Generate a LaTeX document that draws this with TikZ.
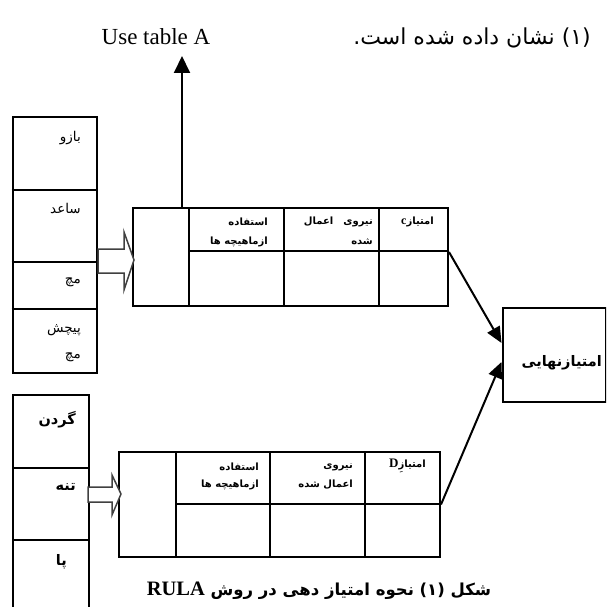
\documentclass[tikz,border=0pt]{standalone}
\usepackage{fontspec}
\setmainfont{Liberation Serif}
\newfontfamily\fa[Script=Arabic]{DejaVu Sans}
\TeXXeTstate=1
\usetikzlibrary{arrows.meta}
\tikzset{
  frame/.style={draw, line width=2pt, inner sep=0pt},
  rule/.style={line width=2pt},
  hollow/.style={draw=black!75, line width=1.5pt, fill=white},
  conn/.style={line width=2pt, -{Triangle[length=16pt,width=14pt]}},
  lbl/.style={anchor=east, inner sep=0pt, font=\fa\fontsize{13.5}{15}\selectfont},
  lblb/.style={anchor=east, inner sep=0pt, font=\fa\bfseries\fontsize{14.5}{16}\selectfont},
  tbl/.style={anchor=east, inner sep=0pt, font=\fa\bfseries\fontsize{10}{12}\selectfont},
}
\begin{document}
\begin{tikzpicture}[x=1pt,y=-1pt]
\useasboundingbox (0,0) rectangle (606,607);
\clip (0,0) rectangle (606,607);

% top texts
\node[inner sep=0pt, font=\fontsize{23}{26}\selectfont] (ut) at (156,37) {Use table A};
\node[anchor=east, inner sep=0pt, font=\fa\fontsize{22}{25}\selectfont] (note) at (591,38) {\beginR (۱) نشان داده شده است.\endR};

% upper left column
\node[frame, minimum width=84pt, minimum height=256pt] (colA) at (54.5,245) {};
\draw[rule] (colA.west |- 0,190) -- (colA.east |- 0,190);
\draw[rule] (colA.west |- 0,262) -- (colA.east |- 0,262);
\draw[rule] (colA.west |- 0,309) -- (colA.east |- 0,309);
\node[lbl] (bazu) at (81,138) {\beginR بازو\endR};
\node[lbl] (saed) at (81,208) {\beginR ساعد\endR};
\node[lbl] (moch) at (81,282) {\beginR مچ\endR};
\node[lbl] (pich) at (81,330) {\beginR پیچش\endR};
\node[lbl] (moch2) at (81,357) {\beginR مچ\endR};

% upper table
\node[frame, minimum width=315pt, minimum height=98pt] (ta) at (290.5,257) {};
\draw[rule] (ta.north -| 189,0) -- (ta.south -| 189,0);
\draw[rule] (ta.north -| 284,0) -- (ta.south -| 284,0);
\draw[rule] (ta.north -| 379,0) -- (ta.south -| 379,0);
\draw[rule] (189,251) -- (ta.east |- 0,251);
\node[tbl] (ta1) at (268,222) {\beginR استفاده\endR};
\node[tbl] (ta2) at (268,242) {\beginR ازماهیچه ها\endR};
\node[tbl] (ta3) at (373,222) {\beginR نیروی\quad اعمال\endR};
\node[tbl] (ta4) at (373,242) {\beginR شده\endR};
\node[tbl] (ta5) at (434,222) {\beginR امتیاز{\rmfamily\bfseries\fontsize{12}{13}\selectfont c}\endR};

% hollow arrow upper
\draw[hollow] (98,249) -- (124,249) -- (124,232) -- (134,260) -- (124,290) -- (124,273) -- (98,273) -- cycle;

% use table A arrow
\coordinate (upA) at (182,56);
\draw[conn, -{Triangle[length=17pt,width=16pt]}] (ta.north -| upA) -- (upA);

% final box
\node[frame, minimum width=103pt, minimum height=94pt] (fin) at (554,355) {};
\node[anchor=east, inner sep=0pt, font=\fa\bfseries\fontsize{14.5}{16}\selectfont] (finl) at (602,363) {\beginR امتیازنهایی\endR};

% lower left column
\node[frame, minimum width=76pt, minimum height=230pt] (colB) at (51,510) {};
\draw[rule] (colB.west |- 0,468) -- (colB.east |- 0,468);
\draw[rule] (colB.west |- 0,540) -- (colB.east |- 0,540);
\node[lblb] (gardan) at (76,420) {\beginR گردن\endR};
\node[lblb] (tane) at (76,487) {\beginR تنه\endR};
\node[lblb] (pa) at (67,562) {\beginR پا\endR};

% lower table
\node[frame, minimum width=321pt, minimum height=105pt] (tb) at (279.5,504.5) {};
\draw[rule] (tb.north -| 176,0) -- (tb.south -| 176,0);
\draw[rule] (tb.north -| 270,0) -- (tb.south -| 270,0);
\draw[rule] (tb.north -| 365,0) -- (tb.south -| 365,0);
\draw[rule] (176,504) -- (tb.east |- 0,504);
\node[tbl] (tb1) at (259,467) {\beginR استفاده\endR};
\node[tbl] (tb2) at (259,485) {\beginR ازماهیچه ها\endR};
\node[tbl] (tb3) at (353,467) {\beginR نیروی\endR};
\node[tbl] (tb4) at (353,485) {\beginR اعمال شده\endR};
\node[tbl] (tb5) at (426,466) {\beginR امتیازِ{\rmfamily\bfseries\fontsize{13}{14}\selectfont D}\endR};

% hollow arrow lower
\draw[hollow] (88,487) -- (112,487) -- (112,475) -- (121,494) -- (112,515) -- (112,502) -- (88,502) -- cycle;

% connectors to final box
\draw[conn] ([yshift=5pt]ta.east) -- ([yshift=12pt]fin.west);
\draw[conn] (tb.east) -- ([yshift=-7pt]fin.west);

% caption
\node[inner sep=0pt, font=\fa\bfseries\fontsize{16.5}{20}\selectfont] (cap) at (319,591) {\beginR شکل (۱) نحوه امتیاز دهی در روش \beginL{\rmfamily\bfseries\fontsize{20.5}{22}\selectfont RULA}\endL\endR};
\end{tikzpicture}
\end{document}
